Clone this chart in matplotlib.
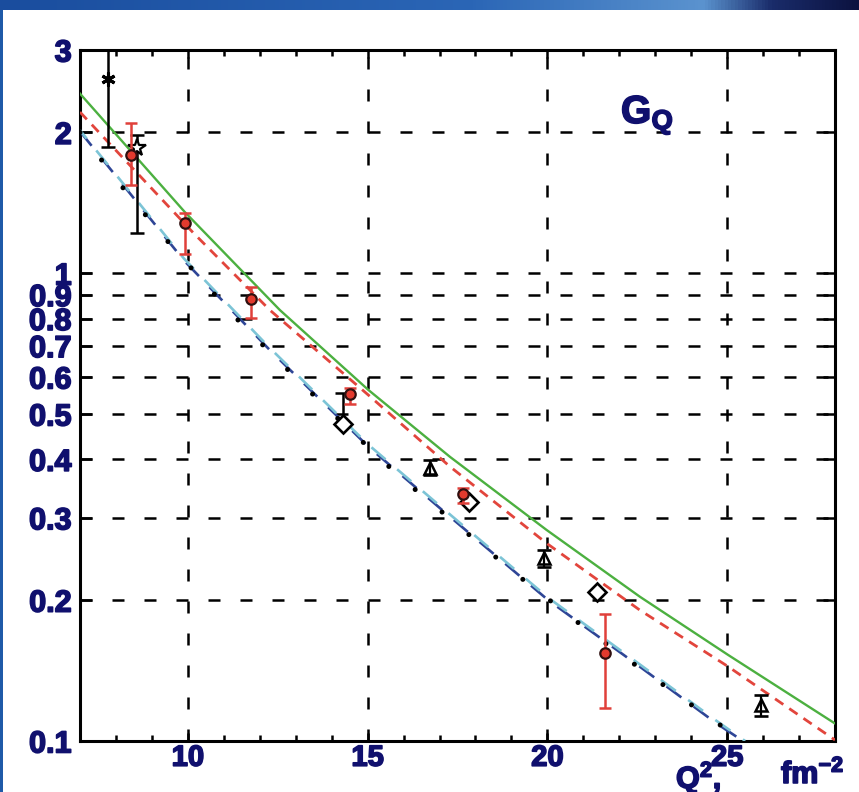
import numpy as np
import matplotlib
matplotlib.use('Agg')
import matplotlib.pyplot as plt
import matplotlib.patheffects as pe
from matplotlib.colors import LinearSegmentedColormap
from matplotlib.ticker import NullLocator, MultipleLocator, FixedLocator

plt.rcParams['font.family'] = ['Liberation Sans', 'DejaVu Sans']
plt.rcParams['font.weight'] = 'bold'
plt.rcParams['mathtext.fontset'] = 'custom'
plt.rcParams['mathtext.rm'] = 'Liberation Sans:bold'
plt.rcParams['mathtext.it'] = 'Liberation Sans:bold'
plt.rcParams['mathtext.bf'] = 'Liberation Sans:bold'

NAVY = '#10106e'
HEAVY = [pe.withStroke(linewidth=1.2, foreground=NAVY)]

# data points: Q^2 in fm^-2, G_Q
red_q2 = [8.42, 9.92, 11.77, 14.51, 17.66, 21.60]
red_g = [1.79, 1.28, 0.88, 0.552, 0.337, 0.1545]
red_lo = [1.544, 1.099, 0.801, 0.525, 0.323, 0.1178]
red_hi = [2.095, 1.343, 0.936, 0.5675, 0.347, 0.1866]

tri_q2 = [16.74, 19.91, 25.94]
tri_g = [0.383, 0.246, 0.1194]
tri_lo = [0.3704, 0.2358, 0.1133]
tri_hi = [0.399, 0.256, 0.1254]

dia_q2 = [14.32, 17.82, 21.37]
dia_g = [0.476, 0.325, 0.2086]
dia_up = 0.554  # upper end of the bar on the first diamond

ast_q2 = [7.79]
ast_g = [2.60]
ast_lo = [1.864]
ast_hi = [3.4]

star_q2 = [8.59]
star_g = [1.849]
star_lo = [1.217]
star_hi = [1.975]

# model curves
green_q2 = [7.0, 9.92, 12.56, 15.02, 17.29, 19.98, 22.57, 25.03, 28.0]
green_g = [2.42, 1.35, 0.834, 0.563, 0.405, 0.2825, 0.2035, 0.1527, 0.109]

reddash_q2 = [7.0, 10.15, 12.28, 15.02, 17.29, 19.98, 22.57, 25.03, 28.0]
reddash_g = [2.21, 1.22, 0.834, 0.549, 0.386, 0.2646, 0.1905, 0.1442, 0.1005]

navy_q2 = [7.0, 9.89, 12.28, 15.02, 17.29, 20.02, 22.57, 24.7, 25.44]
navy_g = [2.01, 1.065, 0.685, 0.4258, 0.3016, 0.2001, 0.1442, 0.1091, 0.1]

cyan_q2 = [7.0, 9.89, 12.28, 15.02, 17.29, 20.02, 22.57, 24.7, 25.5]
cyan_g = [2.02, 1.075, 0.692, 0.430, 0.305, 0.2025, 0.1458, 0.1105, 0.1]

dots_q2 = [7.0, 7.53, 8.09, 8.67, 9.27, 9.89, 10.5, 11.12, 12.45, 13.14, 13.80,
           15.17, 15.85, 16.58, 18.03, 18.77, 19.51, 20.27, 21.02, 21.80,
           23.36, 24.14, 24.94, 25.22]
dots_g = [2.0, 1.774, 1.557, 1.376, 1.211, 1.067, 0.948, 0.834, 0.658, 0.5846,
          0.5202, 0.4142, 0.3698, 0.3319, 0.2676, 0.2398, 0.2155, 0.1944,
          0.175, 0.1578, 0.1296, 0.1175, 0.1064, 0.103]

yticks = [0.1, 0.2, 0.3, 0.4, 0.5, 0.6, 0.7, 0.8, 0.9, 1, 2, 3]
ylabels = ['0.1', '0.2', '0.3', '0.4', '0.5', '0.6', '0.7', '0.8', '0.9', '1', '2', '3']
xticks = [10, 15, 20, 25]


def asym(vals, lo, hi):
    v = np.array(vals)
    return [v - np.array(lo), np.array(hi) - v]


fig = plt.figure(figsize=(8.59, 7.92), dpi=100)
fig.patch.set_facecolor('white')

# slide frame: gradient band on top, thin stripe on the left
band = fig.add_axes([0, 1 - 10 / 792, 1, 10 / 792])
cmap = LinearSegmentedColormap.from_list(
    'band', [(0, '#1a4d9e'), (0.55, '#2b66b6'), (0.82, '#5b93cf'),
             (0.9, '#1a2c6a'), (1, '#0c1240')])
band.imshow(np.linspace(0, 1, 256)[None, :], aspect='auto', cmap=cmap)
band.axis('off')
stripe = fig.add_axes([0, 0, 3 / 859, 1 - 10 / 792])
stripe.set_facecolor('#1f5aa8')
stripe.set_xticks([])
stripe.set_yticks([])
for s in stripe.spines.values():
    s.set_visible(False)

ax = fig.add_axes([80 / 859, 51 / 792, 755 / 859, 691 / 792])
ax.set_yscale('log')
ax.set_xlim(7, 28)
ax.set_ylim(0.1, 3)

ax.yaxis.set_major_locator(FixedLocator(yticks))
ax.yaxis.set_minor_locator(NullLocator())
ax.set_yticklabels(ylabels)
ax.xaxis.set_major_locator(FixedLocator(xticks))
ax.xaxis.set_minor_locator(MultipleLocator(1))
ax.set_xticklabels([str(t) for t in xticks])

ax.grid(True, which='major', color='black', linewidth=1.8,
        linestyle=(0, (4.8, 8)))

ax.tick_params(axis='both', which='both', direction='in', top=True, right=True,
               width=1.8, colors='black', labelcolor=NAVY)
ax.tick_params(axis='y', which='major', length=8.6, pad=6, labelsize=22)
ax.tick_params(axis='x', which='major', length=6, pad=2, labelsize=21)
ax.tick_params(axis='x', which='minor', length=4.5)
for lab in ax.get_xticklabels() + ax.get_yticklabels():
    lab.set_fontweight('bold')
    lab.set_path_effects(HEAVY)
for s in ax.spines.values():
    s.set_linewidth(2.2)

# model curves
ax.plot(green_q2, green_g, color='#4cb040', linewidth=1.7, zorder=3)
ax.plot(reddash_q2, reddash_g, color='#e2453c', linewidth=2.0,
        linestyle=(0, (3.6, 2.6)), zorder=3)
ax.plot(navy_q2, navy_g, color='#2e4596', linewidth=1.9,
        linestyle=(0, (7, 5.8)), zorder=3)
ax.plot(cyan_q2, cyan_g, color='#7cc4d6', linewidth=1.9,
        linestyle=(3, (7, 5.8)), zorder=3)
ax.plot(dots_q2, dots_g, color='black', linewidth=3.6,
        linestyle=(0, (0.01, 7.0)), dash_capstyle='round', zorder=4)

# measurements
ax.errorbar(ast_q2, ast_g, yerr=asym(ast_g, ast_lo, ast_hi), fmt='none',
            ecolor='black', elinewidth=1.8, capsize=5, capthick=1.8, zorder=5)
ax.plot(ast_q2, ast_g, linestyle='none', marker=(6, 2, 0), markersize=10,
        markeredgecolor='black', markeredgewidth=2.2, zorder=6)

ax.errorbar(star_q2, star_g, yerr=asym(star_g, star_lo, star_hi), fmt='none',
            ecolor='black', elinewidth=1.8, capsize=5, capthick=1.8, zorder=5)
ax.plot(star_q2, star_g, linestyle='none', marker='*', markersize=13,
        markerfacecolor='white', markeredgecolor='black',
        markeredgewidth=1.6, zorder=6)

ax.errorbar(dia_q2[:1], dia_g[:1], yerr=[[0], [dia_up - dia_g[0]]], fmt='none',
            ecolor='black', elinewidth=1.8, capsize=6, capthick=1.8, zorder=5)
ax.plot(dia_q2, dia_g, linestyle='none', marker='D', markersize=9.5,
        markerfacecolor='white', markeredgecolor='black',
        markeredgewidth=1.9, zorder=6)

ax.errorbar(tri_q2, tri_g, yerr=asym(tri_g, tri_lo, tri_hi), fmt='none',
            ecolor='black', elinewidth=1.6, capsize=5, capthick=1.9, zorder=5)
ax.plot(tri_q2, tri_g, linestyle='none', marker='^', markersize=9,
        markerfacecolor='none', markeredgecolor='black',
        markeredgewidth=1.8, zorder=6)

ax.errorbar(red_q2, red_g, yerr=asym(red_g, red_lo, red_hi), fmt='none',
            ecolor='#e0403a', elinewidth=1.8, capsize=4, capthick=1.8,
            zorder=7)
ax.plot(red_q2, red_g, linestyle='none', marker='o', markersize=7.5,
        markerfacecolor='#e23a2e', markeredgecolor='#301010',
        markeredgewidth=1.6, zorder=8)

# labels
fig.text(621 / 859, (792 - 123) / 792, r'$\mathrm{G}_{\mathrm{Q}}$',
         fontsize=28, color=NAVY, va='baseline', ha='left', path_effects=HEAVY)
fig.text(676 / 859, 4 / 792, r'$\mathrm{Q}^{2}$,', fontsize=22,
         color=NAVY, va='baseline', ha='left', fontweight='bold',
         path_effects=HEAVY)
fig.text(781 / 859, 9 / 792, r'fm$^{-2}$', fontsize=22,
         color=NAVY, va='baseline', ha='left', fontweight='bold',
         path_effects=HEAVY)

fig.savefig('out.png', dpi=100)
